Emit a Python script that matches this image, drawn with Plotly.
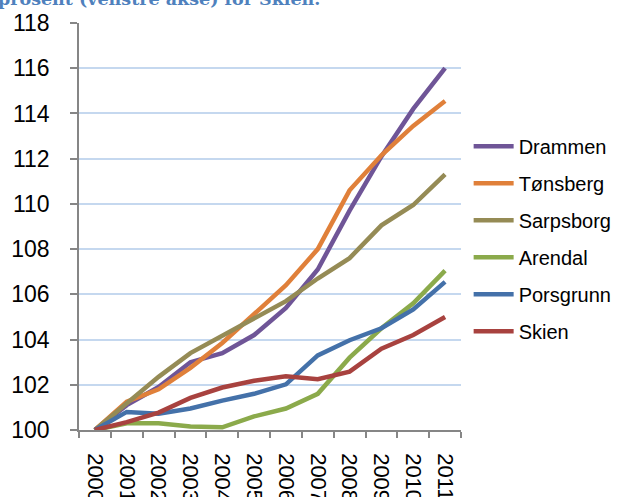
import plotly.graph_objects as go

years = ["2000", "2001", "2002", "2003", "2004", "2005", "2006", "2007", "2008", "2009", "2010", "2011"]

drammen   = [100, 101.1, 101.9, 103.0, 103.4, 104.2, 105.4, 107.1, 109.7, 112.1, 114.2, 116.0]
tonsberg  = [100, 101.25, 101.8, 102.75, 103.85, 105.1, 106.4, 108.0, 110.6, 112.15, 113.45, 114.55]
sarpsborg = [100, 101.2, 102.35, 103.4, 104.15, 104.95, 105.7, 106.7, 107.6, 109.05, 109.95, 111.3]
arendal   = [100, 100.3, 100.3, 100.15, 100.12, 100.6, 100.95, 101.6, 103.2, 104.5, 105.6, 107.05]
porsgrunn = [100, 100.8, 100.72, 100.95, 101.3, 101.6, 102.02, 103.3, 103.97, 104.5, 105.33, 106.55]
skien     = [100, 100.35, 100.77, 101.42, 101.88, 102.18, 102.38, 102.25, 102.58, 103.6, 104.2, 105.0]

series = [
    ("Drammen", drammen, "#6F5597"),
    ("Tønsberg", tonsberg, "#E0803A"),
    ("Sarpsborg", sarpsborg, "#958B55"),
    ("Arendal", arendal, "#8BAA4B"),
    ("Porsgrunn", porsgrunn, "#4471A9"),
    ("Skien", skien, "#A8423F"),
]

title_text = "prosent (venstre akse) for Skien."

fig = go.Figure()
for i, (name, vals, col) in enumerate(series):
    fig.add_trace(go.Scatter(
        x=years, y=vals, name=name, mode="lines",
        line=dict(color=col, width=4.5),
        legendgroup=f"g{i}",
    ))

fig.update_layout(
    width=629, height=497,
    margin=dict(l=79, r=164, t=23, b=67),
    paper_bgcolor="white", plot_bgcolor="white",
    font=dict(family="Liberation Sans, Arial, sans-serif", size=20, color="black"),
    showlegend=True,
    legend=dict(
        x=1.02, xanchor="left", y=0.745, yanchor="top",
        font=dict(family="Liberation Sans, Arial, sans-serif", size=20, color="black"),
        tracegroupgap=8,
        bgcolor="rgba(0,0,0,0)",
        itemwidth=40,
    ),
    annotations=[dict(
        text="<b>" + title_text + "</b>", xref="paper", yref="paper",
        x=0.637, xanchor="right", y=1.0285, yanchor="bottom",
        showarrow=False,
        font=dict(family="DejaVu Serif, serif", size=17.5, color="#4F81BD"),
    )],
)

fig.update_xaxes(
    type="category", range=[-0.5, 11.5],
    tickson="boundaries", ticks="outside", ticklen=6, tickcolor="#868686", tickwidth=1.5,
    showline=True, linecolor="#868686", linewidth=1.5,
    showgrid=False, zeroline=False,
    tickangle=90, ticklabelstandoff=17,
    tickfont=dict(size=22), automargin=False,
)
fig.update_yaxes(
    range=[100, 118], tickmode="linear", tick0=100, dtick=2,
    ticks="outside", ticklen=7, tickcolor="#868686", tickwidth=1.5,
    showline=True, linecolor="#868686", linewidth=1.5,
    showgrid=True, gridcolor="#C5D8EF", gridwidth=1.5,
    zeroline=False, ticklabelstandoff=16,
    tickfont=dict(size=23), automargin=False,
)

fig.write_html("out.html", config={"displayModeBar": False},
               post_script="document.body.style.margin='0';")
